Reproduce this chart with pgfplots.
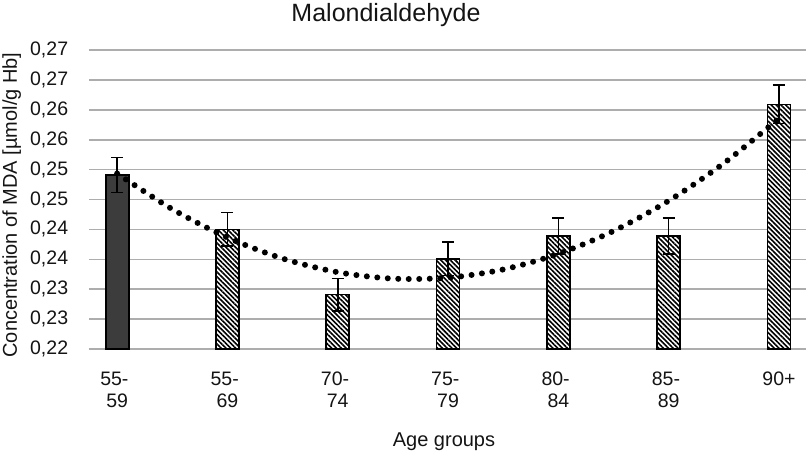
\documentclass[border=0pt]{standalone}
\usepackage{fontspec}
\setmainfont{Liberation Sans}
\usepackage{pgfplots}
\pgfplotsset{compat=1.18}
\usetikzlibrary{patterns.meta}
\definecolor{gridgray}{HTML}{ADADAD}
\definecolor{darkbar}{HTML}{3C3C3C}
\definecolor{txt}{HTML}{141414}
\begin{document}
\begin{tikzpicture}
\path[use as bounding box] (-89bp,-105bp) rectangle (721bp,349bp);
\begin{axis}[
  at={(0,0)}, anchor=south west,
  scale only axis, width=717bp, height=299bp,
  xmin=-0.255, xmax=6.245, ymin=0.22, ymax=0.27,
  axis line style={draw=none},
  major tick length=0pt,
  ytick={0.22,0.225,0.23,0.235,0.24,0.245,0.25,0.255,0.26,0.265,0.27},
  yticklabels={{0,22},{0,23},{0,23},{0,24},{0,24},{0,25},{0,25},{0,26},{0,26},{0,27},{0,27}},
  xtick={0,1,2,3,4,5,6},
  xticklabels={{55-\hspace*{0.28em}\\59},{55-\hspace*{0.28em}\\69},{70-\hspace*{0.28em}\\74},{75-\hspace*{0.28em}\\79},{80-\hspace*{0.28em}\\84},{85-\hspace*{0.28em}\\89},{90+}},
  ymajorgrids, grid style={gridgray, line width=1.6bp},
  ticklabel style={font=\fontsize{19.5bp}{22bp}\selectfont, text=txt},
  yticklabel style={inner sep=0pt, xshift=-20.7bp},
  xticklabel style={align=center, inner sep=0pt, yshift=-23bp},
  ybar, bar width=23bp, bar shift=0pt,
  clip=false,
]
\addplot[fill=darkbar, draw=black, line width=1.8bp,
  error bars/.cd, y dir=both, y explicit,
  error bar style={line width=1.6bp, black},
  error mark options={line width=1.6bp, mark size=6bp, black, rotate=90}]
  coordinates {(0,0.2491) +- (0,0.0029)};
\addplot[draw=black, line width=1.8bp, preaction={fill=white},
  pattern={Lines[angle=-45,distance=3.4bp,line width=1.6bp]},
  error bars/.cd, y dir=both, y explicit,
  error bar style={line width=1.6bp, black},
  error mark options={line width=1.6bp, mark size=6bp, black, rotate=90}]
  coordinates {
  (1,0.2400) +- (0,0.0028)
  (2,0.2291) +- (0,0.0027)
  (3,0.2351) +- (0,0.0028)
  (4,0.2389) +- (0,0.0030)
  (5,0.2389) +- (0,0.0030)
  (6,0.2609) +- (0,0.0032)
  };
\addplot[smooth, black, line width=6bp, line cap=round, dash pattern=on 0pt off 10.5bp] coordinates {
  (0,0.24934) (0.5,0.24338) (1,0.23864) (1.5,0.23513) (2,0.23284) (2.5,0.23177)
  (3,0.23192) (3.5,0.23330) (4,0.23591) (4.5,0.23973) (5,0.24479) (5.5,0.25106) (6,0.25856)
};
\end{axis}
\node[anchor=base, font=\fontsize{25bp}{30bp}\selectfont, text=txt] at (297bp,327bp) {Malondialdehyde};
\node[anchor=base, font=\fontsize{20bp}{24bp}\selectfont, text=txt] at (355bp,-97.7bp) {Age groups};
\node[rotate=90, anchor=base, font=\fontsize{20bp}{24bp}\selectfont, text=txt] at (-72bp,144bp) {Concentration of MDA [µmol/g Hb]};
\end{tikzpicture}
\end{document}
